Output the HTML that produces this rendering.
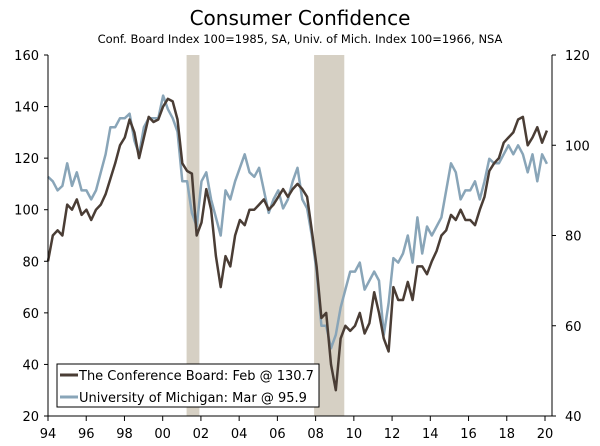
<!DOCTYPE html>
<html><head><meta charset="utf-8"><style>
body{margin:0;background:#fff;font-family:"DejaVu Sans","Liberation Sans",sans-serif;}
svg text{font-family:"DejaVu Sans","Liberation Sans",sans-serif;fill:#000;}
</style></head><body>
<svg id="c" width="600" height="442" viewBox="0 0 600 442">
<text x="300" y="25" text-anchor="middle" font-size="20">Consumer Confidence</text>
<text x="300" y="43" text-anchor="middle" font-size="11.5">Conf. Board Index 100=1985, SA, Univ. of Mich. Index 100=1966, NSA</text>
<g id="rec"></g><g id="lines"></g><g id="axes"></g>
<g>
<rect x="57" y="364" width="262" height="43" fill="#fff" stroke="#000" stroke-width="1"/>
<line x1="60" y1="375" x2="78" y2="375" stroke="#4a3d35" stroke-width="3"/>
<text x="79" y="380" font-size="13">The Conference Board: Feb @ 130.7</text>
<line x1="60" y1="397" x2="78" y2="397" stroke="#89a5b8" stroke-width="3"/>
<text x="79" y="402" font-size="13">University of Michigan: Mar @ 95.9</text>
</g>
</svg>
<script>
const cbValues=[80,90,92,90,102,100,104,98,100,96,100,102,106,112,118,125,128,135,130,120,128,136,134,135,140,143,142,135,118,115,114,90,95,108,100,82,70,82,78,90,96,94,100,100,102,104,100,102,105,108,105,108,110,108,105,92,78,58,60,40,30,50,55,53,55,60,52,56,68,60,50,45,70,65,65,72,65,78,78,75,80,84,90,92,98,96,100,96,96,94,100,105,115,118,120,126,128,130,135,136,125,128,132,126,130.7];
const umValues=[93,92,90,91,96,91,94,90,90,88,90,94,98,104,104,106,106,107,101,98,104,106,106,106,111,108,106,103,92,92,85,82,92,94,88,84,80,90,88,92,95,98,94,93,95,90,85,88,90,86,88,92,95,88,86,80,72,60,60,55,58,64,68,72,72,74,68,70,72,70,58,65,75,74,76,80,74,84,76,82,80,82,84,90,96,94,88,90,90,92,88,92,97,96,96,98,100,98,100,98,94,98,92,98,95.9];
const leftTicks=[20,40,60,80,100,120,140,160];
const rightTicks=[40,60,80,100,120];
const yearLabels=["94","96","98","00","02","04","06","08","10","12","14","16","18","20"];
const recessions=[[2001.25,2001.92],[2007.92,2009.5]];
const NS="http://www.w3.org/2000/svg";
const X0=48,X1=545,Y0=416,Y1=55;
const xs=y=>X0+(y-1994)/26*(X1-X0);
const yl=v=>Y0-(v-20)/140*(Y0-Y1);
const yr=v=>Y0-(v-40)/80*(Y0-Y1);
function mk(t,a,p){const e=document.createElementNS(NS,t);for(const k in a)e.setAttribute(k,a[k]);p.appendChild(e);return e;}
const rec=document.getElementById('rec');
recessions.forEach(r=>{const e=mk('rect',{x:xs(r[0]),y:Y1,width:xs(r[1])-xs(r[0]),height:Y0-Y1,fill:'#d6d0c4'},rec);

});
const lines=document.getElementById('lines');
function path(vals,f,col,name){const n=vals.length;let d='';vals.forEach((v,i)=>{const t=1994+i*(26.1/(n-1));d+=(i?'L':'M')+xs(t).toFixed(1)+','+f(v).toFixed(1);});
const e=mk('path',{d:d,fill:'none',stroke:col,'stroke-width':2.5,'stroke-linejoin':'round'},lines);

}
path(umValues,yr,'#89a5b8','michigan-line');
path(cbValues,yl,'#4a3d35','conference-board-line');
const ax=document.getElementById('axes');
mk('line',{x1:X0,y1:Y1,x2:X0,y2:Y0,stroke:'#000'},ax);
mk('line',{x1:552,y1:Y1,x2:552,y2:Y0,stroke:'#000'},ax);
mk('line',{x1:X0,y1:Y0,x2:552,y2:Y0,stroke:'#000'},ax);
leftTicks.forEach(v=>{mk('line',{x1:X0-4,y1:yl(v),x2:X0,y2:yl(v),stroke:'#000'},ax);
const t=mk('text',{x:X0-9,y:yl(v)+5,'text-anchor':'end','font-size':13},ax);t.textContent=v;

});
rightTicks.forEach(v=>{mk('line',{x1:552,y1:yr(v),x2:556,y2:yr(v),stroke:'#000'},ax);
const t=mk('text',{x:565,y:yr(v)+5,'font-size':13},ax);t.textContent=v;

});
yearLabels.forEach((l,i)=>{const x=xs(1994+2*i);mk('line',{x1:x,y1:Y0,x2:x,y2:Y0+5,stroke:'#000'},ax);
const t=mk('text',{x:x,y:438,'text-anchor':'middle','font-size':13},ax);t.textContent=l;

});
</script>
</body></html>
